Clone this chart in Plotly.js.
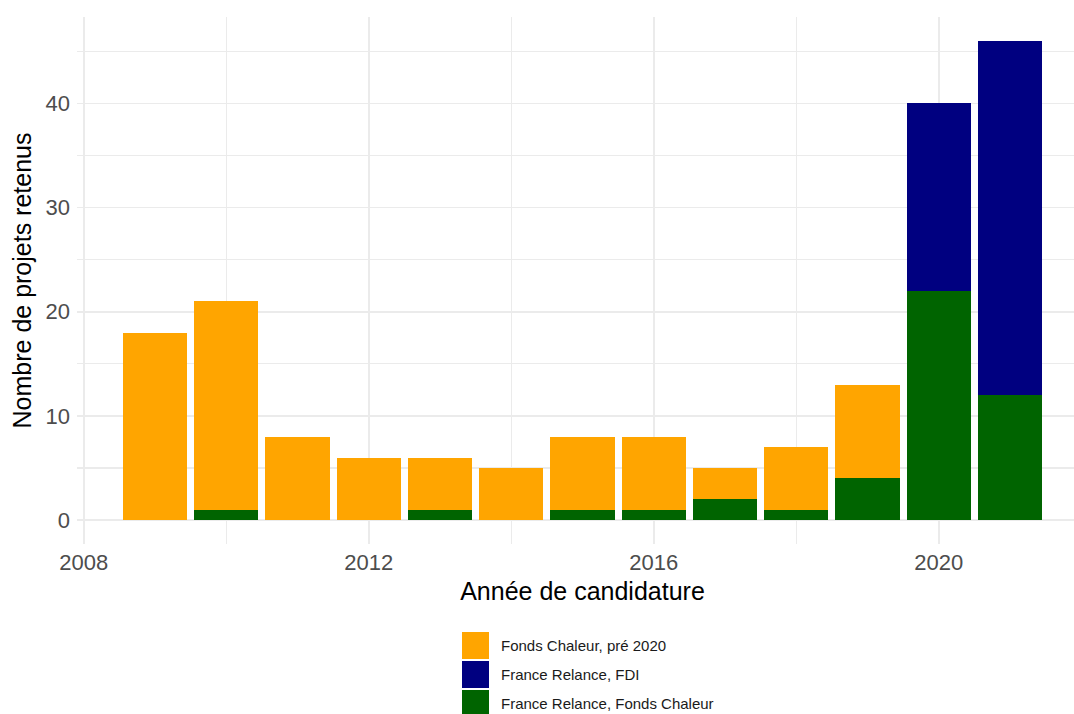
<!DOCTYPE html>
<html>
<head>
<meta charset="utf-8">
<script src="https://cdn.plot.ly/plotly-3.0.1.min.js"></script>
<style>html,body{margin:0;padding:0;background:#fff;overflow:hidden;width:1074px;height:714px;}</style>
</head>
<body>
<div id="chart" style="width:1088px;height:714px;"></div>
<script>
// ---- Data ----
const years = [2009, 2010, 2011, 2012, 2013, 2014, 2015, 2016, 2017, 2018, 2019, 2020, 2021];
const fondsChaleurPre2020 = [18, 20, 8, 6, 5, 5, 7, 7, 3, 6, 9, 0, 0];
const franceRelanceFDI = [0, 0, 0, 0, 0, 0, 0, 0, 0, 0, 0, 18, 34];
const franceRelanceFondsChaleur = [0, 1, 0, 0, 1, 0, 1, 1, 2, 1, 4, 22, 12];
const seriesNames = ['Fonds Chaleur, pré 2020', 'France Relance, FDI', 'France Relance, Fonds Chaleur'];
const seriesColors = ['#FFA500', '#000080', '#006400'];
const xTickVals = [2008, 2012, 2016, 2020];
const yTickVals = [0, 10, 20, 30, 40];

// ---- Geometry (pixels) ----
// The ggplot panel extends slightly past the right edge of the 1074px window and is clipped there.
const W = 1088, H = 714;
const mL = 77, mR = 0, mT = 17, mB = 170;
const plotW = W - mL - mR, plotH = H - mT - mB;
const px2x = p => (p - mL) / plotW;
const px2y = p => (H - mB - p) / plotH;

const seriesValues = [fondsChaleurPre2020, franceRelanceFDI, franceRelanceFondsChaleur];
// stack order bottom->top: green, blue, orange
const traces = [2, 1, 0].map(i => ({
  type: 'bar',
  x: years,
  y: seriesValues[i],
  name: seriesNames[i],
  width: 0.9,
  marker: {color: seriesColors[i], line: {width: 0}},
  showlegend: false,
  hoverinfo: 'x+y+name'
}));

// custom legend (large square keys like ggplot)
const keyLeft = 462, keySize = 27, keyPitch = 29, legendTop = 632, textLeft = 499;
const shapes = [];
const annotations = [];
seriesNames.forEach((name, i) => {
  const top = legendTop + i * keyPitch;
  shapes.push({
    type: 'rect', xref: 'paper', yref: 'paper',
    x0: px2x(keyLeft), x1: px2x(keyLeft + keySize),
    y0: px2y(top + keySize), y1: px2y(top),
    fillcolor: seriesColors[i], line: {width: 0}
  });
  annotations.push({
    xref: 'paper', yref: 'paper',
    x: px2x(textLeft), y: px2y(top + keySize / 2),
    xanchor: 'left', yanchor: 'middle',
    text: name, showarrow: false,
    font: {family: 'Liberation Sans, Arial, sans-serif', size: 15, color: '#1A1A1A'}
  });
});

const layout = {
  width: W, height: H,
  margin: {l: mL, r: mR, t: mT, b: mB, pad: 0},
  paper_bgcolor: '#fff', plot_bgcolor: '#fff',
  barmode: 'stack',
  bargap: 0,
  font: {family: 'Liberation Sans, Arial, sans-serif'},
  xaxis: {
    range: [2007.905, 2022.095],
    tickvals: xTickVals,
    ticktext: xTickVals.map(String),
    showgrid: true, gridcolor: '#EBEBEB', gridwidth: 1.8,
    minor: {tickvals: [2010, 2014, 2018, 2022], showgrid: true, gridcolor: '#EBEBEB', gridwidth: 1.1, ticks: ''},
    zeroline: false, showline: false, ticks: '',
    ticklabelstandoff: 3,
    tickfont: {size: 22, color: '#4D4D4D'},
    title: {text: 'Année de candidature', font: {size: 25, color: '#000'}, standoff: 8},
    automargin: false, fixedrange: true
  },
  yaxis: {
    range: [-2.3, 48.3],
    tickvals: yTickVals,
    showgrid: true, gridcolor: '#EBEBEB', gridwidth: 1.8,
    minor: {tickvals: [5, 15, 25, 35, 45], showgrid: true, gridcolor: '#EBEBEB', gridwidth: 1.1, ticks: ''},
    zeroline: false, showline: false, ticks: '',
    ticklabelstandoff: 6,
    tickfont: {size: 22, color: '#4D4D4D'},
    title: {text: 'Nombre de projets retenus', font: {size: 25, color: '#000'}, standoff: 6},
    automargin: false, fixedrange: true
  },
  shapes: shapes,
  annotations: annotations
};

Plotly.newPlot('chart', traces, layout, {displayModeBar: false, staticPlot: true});
</script>
</body>
</html>
